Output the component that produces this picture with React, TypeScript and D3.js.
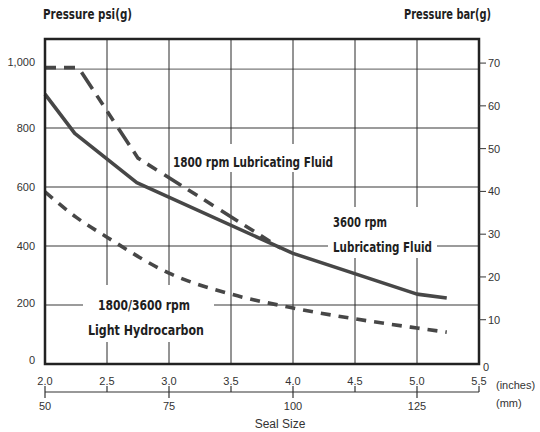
import React from "react";
import * as d3 from "d3";

// ---- data ----
const psiTicks = [0, 200, 400, 600, 800, 1000];
const barTicks = [10, 20, 30, 40, 50, 60, 70];
const inchTicks = [2.0, 2.5, 3.0, 3.5, 4.0, 4.5, 5.0, 5.5];
const mmTicks = [50, 75, 100, 125];

const lub3600Inches = [2.0, 2.24, 2.74, 4.0, 5.0, 5.24];
const lub3600Psi = [915, 782, 615, 375, 237, 224];

const lub1800Inches = [2.0, 2.27, 2.75, 3.9];
const lub1800Psi = [1005, 1005, 698, 393];

const lightInches = [2.0, 2.25, 2.5, 3.0, 3.5, 4.0, 4.5, 5.0, 5.24];
const lightPsi = [584, 498, 430, 308, 237, 190, 153, 122, 108];

const PSI_PER_BAR = 14.5038;

const W = 540;
const H = 432;
const left = 45;
const right = 479;
const top = 39;
const bottom = 364;

const narrow = "'Liberation Sans Narrow', 'DejaVu Sans Condensed', 'Arial Narrow', sans-serif";
const regular = "'Liberation Sans', Arial, Helvetica, sans-serif";

export default function App() {
  const x = d3.scaleLinear().domain([2.0, 5.5]).range([left, right]);
  const y = d3.scaleLinear().domain([0, 1102]).range([bottom, top]);
  const xmm = d3.scaleLinear().domain([50, 125]).range([x(2), x(5)]);
  const yBar = (b: number) => y(b * PSI_PER_BAR);

  const line = d3
    .line<[number, number]>()
    .x((d) => x(d[0]))
    .y((d) => y(d[1]));
  const smooth = d3
    .line<[number, number]>()
    .x((d) => x(d[0]))
    .y((d) => y(d[1]))
    .curve(d3.curveMonotoneX);

  const zip = (a: number[], b: number[]) => a.map((v, i) => [v, b[i]] as [number, number]);

  const axisY = 392;
  const curveColor = "#474747";
  const textColor = "#1e1e1e";
  const boldStyle = { fontStretch: "condensed" as const };

  return (
    <svg width={W} height={H} style={{ display: "block", position: "absolute", left: 0, top: 0 }}>
      <rect x={0} y={0} width={W} height={H} fill="#fff" />
      {/* titles */}
      <text x={43} y={19} textLength={89} lengthAdjust="spacingAndGlyphs" fontFamily={narrow} fontWeight="bold" fontSize={14} fill={textColor} style={boldStyle}>
        Pressure psi(g)
      </text>
      <text x={404} y={19} textLength={87} lengthAdjust="spacingAndGlyphs" fontFamily={narrow} fontWeight="bold" fontSize={14} fill={textColor} style={boldStyle}>
        Pressure bar(g)
      </text>

      {/* horizontal grid */}
      {psiTicks
        .filter((v) => v > 0)
        .map((v) => (
          <line key={"h" + v} x1={left} x2={right} y1={y(v)} y2={y(v)} stroke="#7a7a7a" strokeWidth={1.4} />
        ))}
      {/* vertical grid */}
      {inchTicks
        .filter((v) => v > 2 && v < 5.5)
        .map((v) => (
          <line key={"v" + v} x1={x(v)} x2={x(v)} y1={top} y2={bottom} stroke="#2a2a2a" strokeWidth={1} />
        ))}

      {/* label backgrounds */}
      <rect x={170} y={144} width={168} height={28} fill="#fff" />
      <rect x={328} y={207} width={109} height={51} fill="#fff" />
      <rect x={83} y={285} width={131} height={57} fill="#fff" />

      {/* curves */}
      <path d={smooth(zip(lightInches, lightPsi)) || ""} fill="none" stroke={curveColor} strokeWidth={3.6} strokeDasharray="10 8" />
      <path d={line(zip(lub1800Inches, lub1800Psi)) || ""} fill="none" stroke={curveColor} strokeWidth={3.6} strokeDasharray="11 8 11 9 20 8" />
      <path d={line(zip(lub3600Inches, lub3600Psi)) || ""} fill="none" stroke={curveColor} strokeWidth={3.6} strokeLinejoin="round" />

      {/* series labels */}
      <g fontFamily={narrow} fontWeight="bold" fontSize={14} fill={textColor} style={boldStyle}>
        <text x={173} y={167} textLength={160} lengthAdjust="spacingAndGlyphs">1800 rpm Lubricating Fluid</text>
        <text x={333} y={227} textLength={54} lengthAdjust="spacingAndGlyphs">3600 rpm</text>
        <text x={333} y={252} textLength={99} lengthAdjust="spacingAndGlyphs">Lubricating Fluid</text>
        <text x={98} y={310} textLength={92} lengthAdjust="spacingAndGlyphs">1800/3600 rpm</text>
        <text x={88} y={335} textLength={116} lengthAdjust="spacingAndGlyphs">Light Hydrocarbon</text>
      </g>

      {/* frame */}
      <rect x={left} y={top} width={right - left} height={bottom - top} fill="none" stroke="#222" strokeWidth={2.5} />

      {/* left axis labels */}
      <g fontFamily={regular} fontSize={11} fill="#333" textAnchor="end">
        {psiTicks.map((v) => (
          <text key={"l" + v} x={35} y={y(v) + (v === 1000 ? -7 : v === 0 ? -4 : v === 200 ? -2 : 0)} dominantBaseline="central">
            {d3.format(",")(v)}
          </text>
        ))}
      </g>

      {/* right axis */}
      {barTicks.map((b) => (
        <line key={"rt" + b} x1={right} x2={right + 7} y1={yBar(b) - 1.5} y2={yBar(b) - 1.5} stroke="#333" strokeWidth={1} />
      ))}
      <g fontFamily={regular} fontSize={11} fill="#333">
        {barTicks.map((b) => (
          <text key={"r" + b} x={488} y={yBar(b) - 1.5} dominantBaseline="central">
            {b}
          </text>
        ))}
        <text x={483} y={367} dominantBaseline="central">0</text>
      </g>

      {/* bottom axis */}
      <line x1={x(2)} x2={x(5.5)} y1={axisY} y2={axisY} stroke="#333" strokeWidth={1.2} />
      {inchTicks.map((v) => (
        <line key={"it" + v} x1={x(v)} x2={x(v)} y1={axisY - 6} y2={axisY} stroke="#333" strokeWidth={1.2} />
      ))}
      {mmTicks.map((m) => (
        <line key={"mt" + m} x1={xmm(m)} x2={xmm(m)} y1={axisY} y2={axisY + 6} stroke="#333" strokeWidth={1.2} />
      ))}
      <g fontFamily={regular} fontSize={11} fill="#333">
        {inchTicks.map((v) => (
          <text key={"il" + v} x={x(v)} y={385} textAnchor="middle">
            {d3.format(".1f")(v)}
          </text>
        ))}
        {mmTicks.map((m) => (
          <text key={"ml" + m} x={xmm(m)} y={410} textAnchor="middle">
            {m}
          </text>
        ))}
        <text x={496} y={389}>(inches)</text>
        <text x={496} y={407}>(mm)</text>
        <text x={280} y={428} textAnchor="middle" fontSize={12}>
          Seal Size
        </text>
      </g>
    </svg>
  );
}
